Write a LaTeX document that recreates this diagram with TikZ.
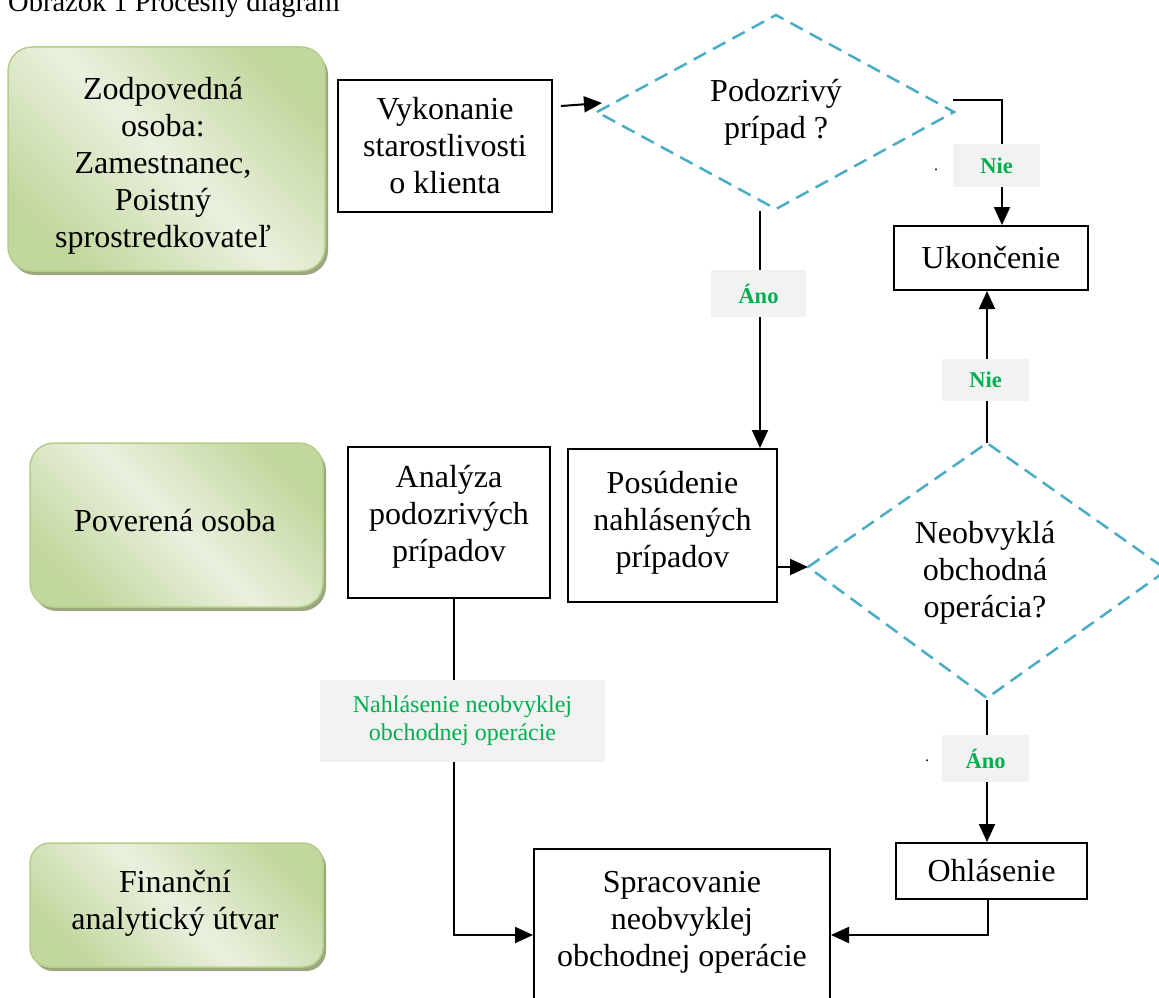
\documentclass[tikz,border=0pt]{standalone}
\usepackage{fontspec}
\setmainfont{Liberation Serif}
\usetikzlibrary{arrows.meta,shadows,calc}
\definecolor{diablue}{HTML}{4BACC6}
\definecolor{lblgreen}{HTML}{00B050}
\definecolor{lblbg}{HTML}{F2F2F2}
\definecolor{gdark}{HTML}{C2D79E}
\definecolor{glight}{HTML}{EAF0DE}
\definecolor{gborder}{HTML}{B5CE8A}
\definecolor{gshadow}{HTML}{9AA77F}
\tikzset{
  big/.style={font=\fontsize{32}{37}\selectfont},
  box/.style={draw=black, line width=2pt, rectangle, inner sep=0pt, align=center, big},
  gbox/.style={rounded corners=24pt, draw=gborder, line width=1.5pt,
    top color=gdark, bottom color=gdark, middle color=glight, shading angle=-45,
    align=center, big, inner sep=0pt,
    drop shadow={shadow xshift=3pt, shadow yshift=-4pt, fill=gshadow, opacity=1}},
  dia/.style={draw=diablue, line width=2.5pt, dash pattern=on 14pt off 8pt},
  conn/.style={draw=black, line width=2pt},
  arr/.style={conn, -{Triangle[length=18pt,width=16pt]}},
  lbl/.style={fill=lblbg, text=lblgreen, font=\fontsize{22.5}{26}\selectfont\bfseries, inner sep=0pt},
  lbltext/.style={fill=lblbg, text=lblgreen, font=\fontsize{24}{28}\selectfont, inner sep=0pt, align=center},
  txt/.style={align=center, big, inner sep=0pt},
  dotmark/.style={font=\fontsize{16}{16}\selectfont, inner sep=0pt, anchor=base},
}
\begin{document}
\begin{tikzpicture}[x=1pt, y=-1pt]
\useasboundingbox (0,0) rectangle (1159,998);
\fill[white] (0,0) rectangle (1159,998);

% title (cut off at the top edge, as in the reference)
\node[anchor=base west, font=\fontsize{28.5}{32}\selectfont, inner sep=0pt] (title) at (8,12) {Obrázok 1 Procesný diagram};

% green role boxes
\node[gbox, minimum width=317, minimum height=224] (g1) at (166.5,159) {};
\node[txt] (g1t) at (163,166) {Zodpovedná\\osoba:\\Zamestnanec,\\Poistný\\sprostredkovateľ};
\node[gbox, minimum width=293, minimum height=164] (g2) at (176.5,525) {};
\node[txt] (g2t) at (175,521) {Poverená osoba};
\node[gbox, rounded corners=20pt, minimum width=293, minimum height=124] (g3) at (176.5,905) {};
\node[txt] (g3t) at (175,903) {Finanční\\analytický útvar};

% process boxes
\node[box, minimum width=214, minimum height=132] (vyk) at (445,146) {Vykonanie\\starostlivosti\\o klienta};
\node[box, minimum width=194, minimum height=64] (uk) at (991,258) {Ukončenie};
\node[box, minimum width=202, minimum height=151] (ana) at (449,522.5) {};
\node[txt] (anat) at (449,517) {Analýza\\podozrivých\\prípadov};
\node[box, minimum width=209, minimum height=153] (pos) at (672.5,525.5) {};
\node[txt] (post) at (672.5,523) {Posúdenie\\nahlásených\\prípadov};
\node[box, minimum width=191, minimum height=56] (ohl) at (991.5,871) {Ohlásenie};
\node[box, minimum width=296, minimum height=160] (spr) at (682,929) {};
\node[txt] (sprt) at (682,922) {Spracovanie\\neobvyklej\\obchodnej operácie};

% decision 1
\coordinate (d1t) at (776,15);
\coordinate (d1r) at (954,112);
\coordinate (d1b) at (776,209);
\coordinate (d1l) at (597,112);
\draw[dia] (d1l) -- (d1t) -- (d1r) -- (d1b) -- cycle;
\node[txt] (d1) at (776,112) {Podozrivý\\prípad ?};

% decision 2
\coordinate (d2t) at (987,443);
\coordinate (d2r) at (1167,570);
\coordinate (d2b) at (987,698);
\coordinate (d2l) at (808,567);
\draw[dia] (d2l) -- (d2t) -- (d2r) -- (d2b) -- cycle;
\node[txt] (d2) at (985,573) {Neobvyklá\\obchodná\\operácia?};

% connector end points
\coordinate (d1in) at (602,103);
\coordinate (n1s) at (953,100);
\coordinate (a1s) at (760,211);

% connectors
\draw[arr] ([xshift=8pt,yshift=40pt]vyk.east) -- (d1in);
\draw[arr] (n1s) -| ([xshift=11pt]uk.north);
\draw[arr] (a1s) -- (a1s |- pos.north);
\draw[arr] (d2l -| pos.east) -- (d2l);
\draw[arr] (d2t) -- (d2t |- uk.south);
\draw[arr] ([yshift=-2pt]d2b) -- (d2b |- ohl.north);
\draw[arr] ([xshift=-3.5pt]ohl.south) |- ([yshift=-6pt]spr.east);
\draw[arr] ([xshift=5pt]ana.south) |- ([yshift=-6pt]spr.west);

% labels
\node[lbl, minimum width=87, minimum height=43] (nie1) at (996.5,165.5) {Nie};
\node[lbl, minimum width=95, minimum height=47] (ano1) at (758.5,293.5) {Áno};
\node[lbl, minimum width=87, minimum height=42] (nie2) at (985.5,380) {Nie};
\node[lbl, minimum width=87, minimum height=47] (ano2) at (985.5,758.5) {Áno};
\node[lbltext, minimum width=285, minimum height=82] (nahl) at (462.5,721) {Nahlásenie neobvyklej\\obchodnej operácie};

% stray dots
\node[dotmark] (dot1) at (936,170) {.};
\node[dotmark] (dot2) at (927,761) {.};
\end{tikzpicture}
\end{document}
